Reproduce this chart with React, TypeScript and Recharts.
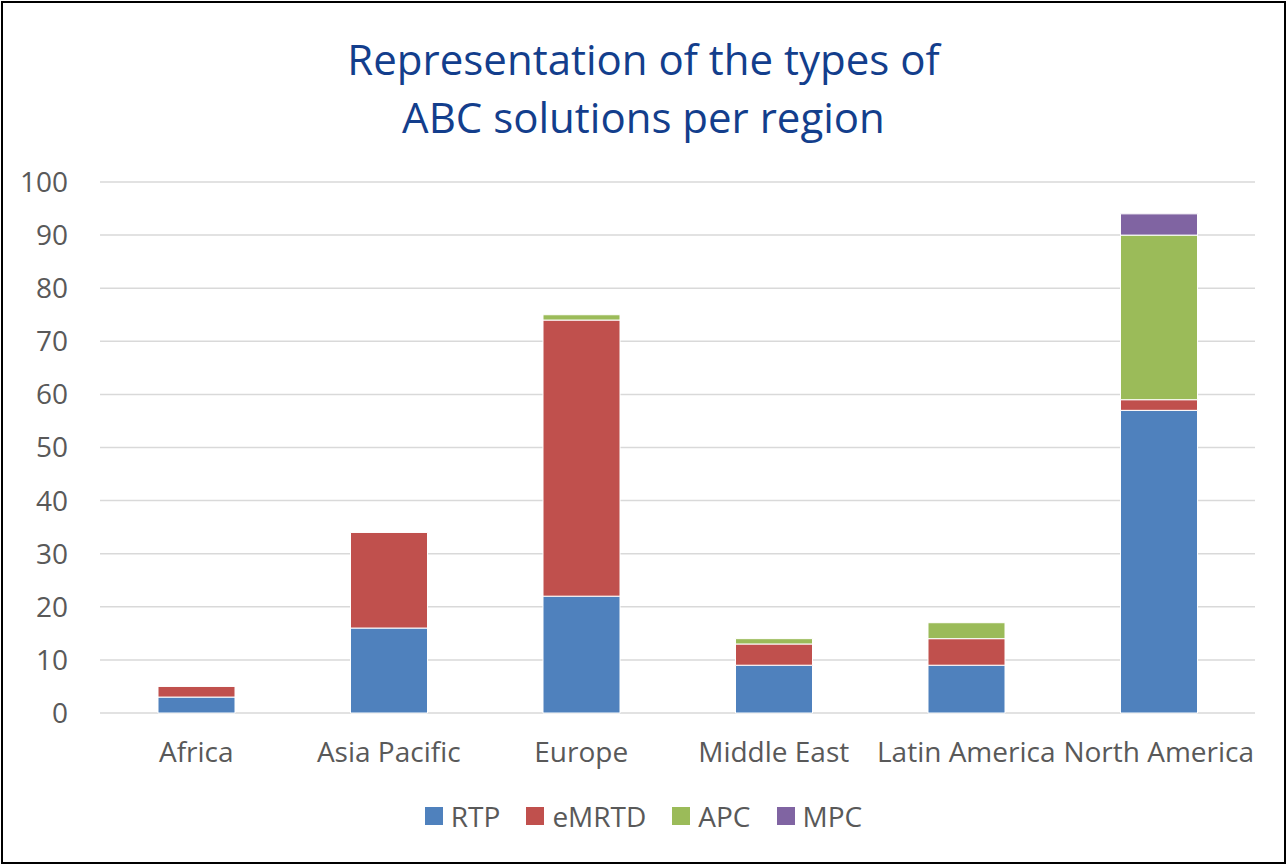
import React from 'react';
import { BarChart, Bar, XAxis, YAxis, CartesianGrid, Legend } from 'recharts';

const regions = ['Africa', 'Asia Pacific', 'Europe', 'Middle East', 'Latin America', 'North America'];
const rtp = [3, 16, 22, 9, 9, 57];
const emrtd = [2, 18, 52, 4, 5, 2];
const apc = [0, 0, 1, 1, 3, 31];
const mpc = [0, 0, 0, 0, 0, 4];
const yTicks = [0, 10, 20, 30, 40, 50, 60, 70, 80, 90, 100];

const series = [
  { key: 'RTP', color: '#4f81bd' },
  { key: 'eMRTD', color: '#c0504d' },
  { key: 'APC', color: '#9bbb59' },
  { key: 'MPC', color: '#8064a2' },
];

const data = regions.map((region, i) => ({
  region,
  RTP: rtp[i],
  eMRTD: emrtd[i],
  APC: apc[i],
  MPC: mpc[i],
}));

const font = '"Open Sans", Lato, sans-serif';

const LegendContent = () => (
  <div style={{ display: 'flex', justifyContent: 'center', gap: 26, fontFamily: font, fontSize: 28, color: '#595959' }}>
    {series.map((s) => (
      <div key={s.key} style={{ display: 'flex', alignItems: 'center' }}>
        <span style={{ display: 'inline-block', width: 18, height: 18, background: s.color, marginRight: 8 }} />
        {s.key}
      </div>
    ))}
  </div>
);

export default function App() {
  return (
    <div style={{ position: 'fixed', left: 0, top: 0, width: 1287, height: 865, background: '#fff' }}>
      <div
        style={{
          position: 'absolute', left: 1, top: 1, width: 1281, height: 859,
          border: '2px solid #000', boxSizing: 'content-box', pointerEvents: 'none',
        }}
      />
      <div
        style={{
          position: 'absolute', left: 0, top: 30, width: 1287, textAlign: 'center',
          fontFamily: font, fontSize: 42, lineHeight: '58px', color: '#133e8c',
        }}
      >
        Representation of the types of
        <br />
        ABC solutions per region
      </div>
      <BarChart
        width={1287}
        height={865}
        data={data}
        margin={{ top: 182, right: 32, left: 0, bottom: 92 }}
      >
        <CartesianGrid vertical={false} stroke="#d9d9d9" strokeWidth={1.5} />
        <XAxis
          dataKey="region"
          axisLine={false}
          tickLine={false}
          tickSize={0}
          tickMargin={29}
          height={60}
          interval={0}
          tick={{ fill: '#595959', fontSize: 28, fontFamily: font }}
        />
        <YAxis
          domain={[0, 100]}
          ticks={yTicks}
          width={100}
          axisLine={false}
          tickLine={false}
          tickSize={0}
          tickMargin={32}
          tick={{ fill: '#595959', fontSize: 28, fontFamily: font }}
        />
        <Legend
          layout="horizontal"
          verticalAlign="middle"
          align="center"
          content={<LegendContent />}
          wrapperStyle={{ top: 797, left: 0, width: 1287 }}
        />
        {series.map((s) => (
          <Bar
            key={s.key}
            dataKey={s.key}
            stackId="a"
            fill={s.color}
            stroke="#fff"
            strokeWidth={1}
            barSize={77}
            isAnimationActive={false}
          />
        ))}
      </BarChart>
    </div>
  );
}
